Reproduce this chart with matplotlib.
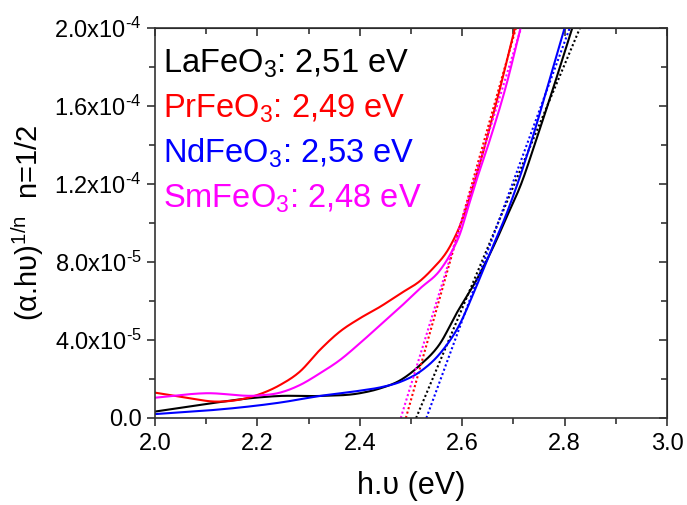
import numpy as np
import matplotlib.pyplot as plt
from matplotlib.ticker import MultipleLocator, FuncFormatter

plt.rcParams['font.family'] = ['Liberation Sans', 'DejaVu Sans']
plt.rcParams['mathtext.fontset'] = 'custom'
plt.rcParams['mathtext.rm'] = 'Liberation Sans'
plt.rcParams['mathtext.it'] = 'Liberation Sans'
plt.rcParams['mathtext.default'] = 'regular'

# Datos (energia en eV, (alpha.h.nu)^2 en unidades de 1e-5)
e_la = [2.00, 2.10, 2.20, 2.244, 2.322, 2.40, 2.44, 2.48, 2.518, 2.557, 2.589, 2.628, 2.661, 2.693, 2.713, 2.745, 2.78, 2.815]
v_la = [0.33, 0.72, 1.05, 1.13, 1.13, 1.27, 1.52, 1.95, 2.72, 3.83, 5.37, 7.08, 8.79, 10.67, 11.86, 14.3, 17.1, 20.0]

e_pr = [2.00, 2.06, 2.12, 2.20, 2.244, 2.283, 2.322, 2.361, 2.40, 2.44, 2.48, 2.52, 2.54, 2.576, 2.60, 2.625, 2.667, 2.703]
v_pr = [1.30, 1.05, 0.84, 1.18, 1.69, 2.38, 3.49, 4.43, 5.11, 5.71, 6.39, 7.08, 7.59, 8.79, 10.15, 12.2, 16.2, 20.0]

e_nd = [2.00, 2.10, 2.17, 2.244, 2.322, 2.40, 2.44, 2.48, 2.518, 2.557, 2.596, 2.622, 2.654, 2.687, 2.706, 2.74, 2.77, 2.80]
v_nd = [0.20, 0.38, 0.55, 0.79, 1.13, 1.40, 1.57, 1.86, 2.38, 3.32, 4.85, 6.39, 8.44, 10.5, 11.86, 14.6, 17.3, 20.0]

e_sm = [2.00, 2.10, 2.20, 2.244, 2.283, 2.322, 2.361, 2.40, 2.44, 2.48, 2.518, 2.557, 2.576, 2.596, 2.612, 2.628, 2.654, 2.687, 2.714]
v_sm = [1.04, 1.27, 1.15, 1.30, 1.69, 2.29, 2.97, 3.83, 4.77, 5.71, 6.65, 7.59, 8.36, 9.47, 10.84, 12.2, 14.26, 17.16, 20.0]

# Ajustes lineales: energia del gap y energia donde la recta llega a 2e-4
gap = {'La': 2.51, 'Pr': 2.49, 'Nd': 2.53, 'Sm': 2.48}
e_top = {'La': 2.83, 'Pr': 2.705, 'Nd': 2.81, 'Sm': 2.715}

nombres = ['La', 'Pr', 'Nd', 'Sm']
etiquetas = ['LaFeO$_3$: 2,51 eV', 'PrFeO$_3$: 2,49 eV', 'NdFeO$_3$: 2,53 eV', 'SmFeO$_3$: 2,48 eV']
colores = {'La': 'black', 'Pr': '#ff0000', 'Nd': '#0000ff', 'Sm': '#ff00ff'}
datos = {'La': (e_la, v_la), 'Pr': (e_pr, v_pr), 'Nd': (e_nd, v_nd), 'Sm': (e_sm, v_sm)}


def hermite(x, y, xf):
    # interpolacion cubica de Hermite para suavizar la curva
    x = np.asarray(x)
    y = np.asarray(y)
    m = np.gradient(y, x)
    i = np.clip(np.searchsorted(x, xf) - 1, 0, len(x) - 2)
    h = x[i + 1] - x[i]
    t = (xf - x[i]) / h
    h00 = 2 * t**3 - 3 * t**2 + 1
    h10 = t**3 - 2 * t**2 + t
    h01 = -2 * t**3 + 3 * t**2
    h11 = t**3 - t**2
    return h00 * y[i] + h10 * h * m[i] + h01 * y[i + 1] + h11 * h * m[i + 1]


fig = plt.figure(figsize=(6.87, 5.05), dpi=100)
ax = fig.add_axes([155 / 687, 1 - 418 / 505, 512 / 687, 390 / 505])

for n in nombres:
    e, v = datos[n]
    ef = np.linspace(e[0], e[-1], 400)
    vf = hermite(e, v, ef) * 1e-5
    ax.plot(ef, vf, color=colores[n], lw=1.5)
    ax.plot([gap[n], e_top[n]], [0, 2e-4], color=colores[n], lw=1.5, ls=(0, (1, 1.2)))

ax.set_xlim(2.0, 3.0)
ax.set_ylim(0, 2e-4)
ax.xaxis.set_major_locator(MultipleLocator(0.2))
ax.xaxis.set_minor_locator(MultipleLocator(0.1))
ax.yaxis.set_major_locator(MultipleLocator(4e-5))
ax.yaxis.set_minor_locator(MultipleLocator(2e-5))
ax.xaxis.set_major_formatter(FuncFormatter(lambda x, p: f'{x:.1f}'))


def fmt_y(y, p):
    if y < 1e-12:
        return '0.0'
    exp = int(np.floor(np.log10(y)))
    return f'{y / 10**exp:.1f}x10$^{{\u2010{abs(exp)}}}$'


ax.yaxis.set_major_formatter(FuncFormatter(fmt_y))

ax.tick_params(axis='both', which='both', labelsize=17, width=1.2, color='#333333')
ax.tick_params(axis='both', which='major', direction='out', length=6)
ax.tick_params(axis='both', which='minor', direction='out', length=4)
ax.tick_params(axis='x', which='major', pad=5)
ax2 = ax.secondary_xaxis('top')
ax2.xaxis.set_major_locator(MultipleLocator(0.2))
ax2.xaxis.set_minor_locator(MultipleLocator(0.1))
ax2.tick_params(which='both', direction='in', labeltop=False, width=1.2, color='#333333')
ax2.tick_params(which='major', length=6)
ax2.tick_params(which='minor', length=4)
ay2 = ax.secondary_yaxis('right')
ay2.yaxis.set_major_locator(MultipleLocator(4e-5))
ay2.yaxis.set_minor_locator(MultipleLocator(2e-5))
ay2.tick_params(which='both', direction='in', labelright=False, width=1.2, color='#333333')
ay2.tick_params(which='major', length=6)
ay2.tick_params(which='minor', length=4)
for s in ax.spines.values():
    s.set_linewidth(1.2)
    s.set_color('#333333')

ax.set_xlabel('h.\u03c5 (eV)', fontsize=22, labelpad=11)
ax.set_ylabel('(\u03b1.h\u03c5)$^{1/n}$  n=1/2', fontsize=21, labelpad=6)

ys = [0.8846, 0.769, 0.654, 0.5385]
for n, t, yy in zip(nombres, etiquetas, ys):
    ax.text(0.016, yy, t, color=colores[n], fontsize=23.5, transform=ax.transAxes,
            ha='left', va='baseline')

fig.savefig('out.png', dpi=100)
